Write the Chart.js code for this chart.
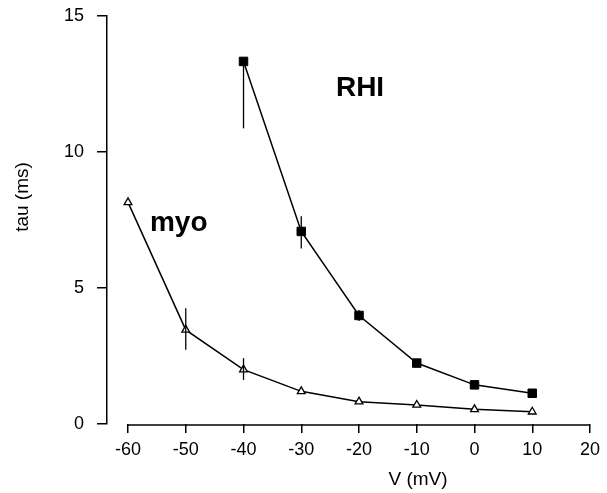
<!DOCTYPE html>
<html>
<head>
<meta charset="utf-8">
<script src="https://cdn.jsdelivr.net/npm/chart.js@4/dist/chart.umd.min.js"></script>
<style>
html,body{margin:0;padding:0;background:#fff;}
#wrap{width:607px;height:493px;position:relative;}
</style>
</head>
<body>
<div id="wrap"><canvas id="c" width="607" height="493"></canvas></div>
<script>
// ---- data ----
const myoVoltages = [-60, -50, -40, -30, -20, -10, 0, 10];
const myoTau      = [8.15, 3.46, 2.0, 1.2, 0.82, 0.7, 0.54, 0.45];
const myoErrUp    = [0, 0.8, 0.42, 0, 0, 0, 0, 0];
const myoErrDown  = [0, 0.73, 0.38, 0, 0, 0, 0, 0];

const rhiVoltages = [-40, -30, -20, -10, 0, 10];
const rhiTau      = [13.33, 7.08, 3.99, 2.24, 1.44, 1.13];
const rhiErrUp    = [0, 0.56, 0.2, 0, 0, 0];
const rhiErrDown  = [2.46, 0.63, 0.2, 0, 0, 0];

const xTicks = [-60, -50, -40, -30, -20, -10, 0, 10, 20];
const yTicks = [0, 5, 10, 15];

const seriesLabels = [
  {text: 'RHI', x: -24.0, y: 12.06},
  {text: 'myo', x: -56.2, y: 7.09}
];
const xTitle = 'V (mV)';
const yTitle = 'tau (ms)';

// ---- chart ----
const FONT = '"Liberation Sans", Arial, Helvetica, sans-serif';

const errorBars = {
  id: 'errorBars',
  afterDatasetsDraw(chart) {
    const ctx = chart.ctx, xs = chart.scales.x, ys = chart.scales.y;
    ctx.save();
    ctx.strokeStyle = '#000';
    ctx.lineWidth = 1.3;
    chart.data.datasets.forEach(ds => {
      ds.data.forEach((p, i) => {
        const up = ds.errUp[i], dn = ds.errDown[i];
        if (!up && !dn) return;
        const px = xs.getPixelForValue(p.x);
        ctx.beginPath();
        ctx.moveTo(px, ys.getPixelForValue(p.y + up));
        ctx.lineTo(px, ys.getPixelForValue(p.y - dn));
        ctx.stroke();
      });
    });
    ctx.restore();
  }
};

const decorations = {
  id: 'decorations',
  afterDraw(chart) {
    const ctx = chart.ctx, xs = chart.scales.x, ys = chart.scales.y;
    ctx.save();
    // x axis line from first to last tick
    ctx.strokeStyle = '#000';
    ctx.lineWidth = 1.5;
    ctx.beginPath();
    const yb = ys.getPixelForValue(0) + 1;
    ctx.moveTo(xs.getPixelForValue(xTicks[0]), yb);
    ctx.lineTo(xs.getPixelForValue(xTicks[xTicks.length - 1]), yb);
    ctx.stroke();
    // series labels
    ctx.fillStyle = '#000';
    ctx.font = 'bold 28px ' + FONT;
    ctx.textAlign = 'left';
    ctx.textBaseline = 'alphabetic';
    seriesLabels.forEach(l => {
      ctx.fillText(l.text, xs.getPixelForValue(l.x), ys.getPixelForValue(l.y));
    });
    // axis titles
    ctx.font = '19px ' + FONT;
    ctx.textAlign = 'center';
    ctx.textBaseline = 'middle';
    ctx.fillText(xTitle, 418, 480);
    ctx.translate(23, 197);
    ctx.rotate(-Math.PI / 2);
    ctx.fillText(yTitle, 0, 0);
    ctx.restore();
  }
};

new Chart(document.getElementById('c'), {
  type: 'line',
  data: {
    datasets: [
      {
        label: 'myo',
        data: myoVoltages.map((v, i) => ({x: v, y: myoTau[i]})),
        errUp: myoErrUp, errDown: myoErrDown,
        borderColor: '#000', borderWidth: 1.5,
        pointStyle: 'triangle', pointRadius: 4.5,
        pointBackgroundColor: '#fff', pointBorderColor: '#000', pointBorderWidth: 1.3,
        tension: 0, fill: false, clip: false
      },
      {
        label: 'RHI',
        data: rhiVoltages.map((v, i) => ({x: v, y: rhiTau[i]})),
        errUp: rhiErrUp, errDown: rhiErrDown,
        borderColor: '#000', borderWidth: 1.5,
        pointStyle: 'rect', pointRadius: 6,
        pointBackgroundColor: '#000', pointBorderColor: '#000', pointBorderWidth: 1,
        tension: 0, fill: false, clip: false
      }
    ]
  },
  options: {
    responsive: false,
    animation: false,
    devicePixelRatio: 1,
    layout: {padding: {top: 16, right: 17, left: 0, bottom: 0}},
    plugins: {legend: {display: false}, tooltip: {enabled: false}},
    scales: {
      x: {
        type: 'linear',
        min: -63.64, max: 20,
        afterBuildTicks: s => { s.ticks = xTicks.map(v => ({value: v})); },
        afterFit: s => { s.height = 69; s.paddingLeft = 0; s.paddingRight = 0; },
        border: {display: false},
        grid: {display: true, drawOnChartArea: false, drawTicks: true, tickLength: 9, color: '#000', lineWidth: 1.5},
        ticks: {color: '#000', font: {family: FONT, size: 18}, padding: 6, maxRotation: 0, autoSkip: false}
      },
      y: {
        type: 'linear',
        min: 0, max: 15,
        afterBuildTicks: s => { s.ticks = yTicks.map(v => ({value: v})); },
        afterFit: s => { s.width = 107; s.paddingTop = 0; s.paddingBottom = 0; },
        border: {display: true, color: '#000', width: 1.5},
        grid: {display: true, drawOnChartArea: false, drawTicks: true, tickLength: 10, color: '#000', lineWidth: 1.5},
        ticks: {color: '#000', font: {family: FONT, size: 18}, padding: 13}
      }
    }
  },
  plugins: [errorBars, decorations]
});
</script>
</body>
</html>
